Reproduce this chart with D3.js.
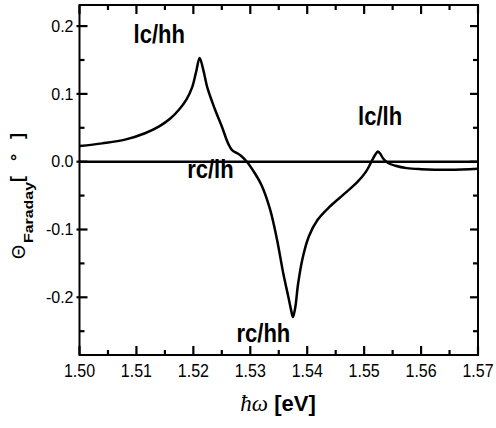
<!DOCTYPE html>
<html>
<head>
<meta charset="utf-8">
<script src="https://cdn.jsdelivr.net/npm/d3@7"></script>
<style>
  html, body { margin: 0; padding: 0; background: #fff; }
  svg { display: block; }
  text { font-family: "Liberation Sans", Arial, sans-serif; fill: #000; }
</style>
</head>
<body>
<svg id="chart" width="496" height="428"></svg>
<script>
// Photon energy (eV) and Faraday rotation angle (degrees)
const energy = [
  1.5000, 1.5040, 1.5080, 1.5115, 1.5140, 1.5160, 1.5175, 1.5188, 1.5198, 1.5205,
  1.5211, 1.5217, 1.5225, 1.5238, 1.5250, 1.5261, 1.5268, 1.5278, 1.5286, 1.5294,
  1.5308, 1.5320, 1.5335, 1.5347, 1.5358, 1.5367, 1.5372, 1.5375, 1.5379, 1.5384,
  1.5392, 1.5403, 1.5418, 1.5440, 1.5463, 1.5487, 1.5503, 1.5514, 1.5520, 1.5524,
  1.5528, 1.5534, 1.5542, 1.5555, 1.5575, 1.5600, 1.5650, 1.5700
];
const theta = [
  0.0230, 0.0270, 0.0325, 0.0420, 0.0520, 0.0640, 0.0770, 0.0920, 0.1100, 0.1330,
  0.1530, 0.1370, 0.1080, 0.0770, 0.0520, 0.0270, 0.0170, 0.0120, 0.0070, 0.0000,
  -0.0170, -0.0350, -0.0710, -0.1150, -0.1650, -0.2000, -0.2200, -0.2290, -0.2150, -0.1800,
  -0.1420, -0.1100, -0.0860, -0.0660, -0.0490, -0.0310, -0.0150, 0.0020, 0.0110, 0.0150,
  0.0120, 0.0040, -0.0020, -0.0060, -0.0095, -0.0110, -0.0120, -0.0105
];

// Transition labels with their anchor position (energy, angle)
const peakLabels = ["lc/hh", "rc/lh", "rc/hh", "lc/lh"];
const peakLabelX = [1.5140, 1.5230, 1.5323, 1.5528];
const peakLabelY = [0.175, -0.024, -0.266, 0.054];

const xTicks = [1.50, 1.51, 1.52, 1.53, 1.54, 1.55, 1.56, 1.57];
const xMinor = [1.505, 1.515, 1.525, 1.535, 1.545, 1.555, 1.565];
const yTicks = [-0.2, -0.1, 0.0, 0.1, 0.2];
const yMinor = [-0.25, -0.15, -0.05, 0.05, 0.15];

const svg = d3.select("#chart");
const plotL = 79.5, plotR = 478, plotT = 5, plotB = 355;

const x = d3.scaleLinear().domain([1.50, 1.57]).range([plotL, plotR]);
const y = d3.scaleLinear().domain([-0.2851, 0.2311]).range([plotB, plotT]);

const fmtX = d3.format(".2f");
const fmtY = v => d3.format(".1f")(v).replace("\u2212", "-");

// Frame
svg.append("rect")
  .attr("x", plotL).attr("y", plotT)
  .attr("width", plotR - plotL).attr("height", plotB - plotT)
  .attr("fill", "none").attr("stroke", "#000").attr("stroke-width", 2);

const ticks = svg.append("g").attr("stroke", "#000").attr("stroke-width", 2.2);

// Vertical ticks on bottom and top edges, pointing into the plot
function xTickMarks(values, len) {
  ticks.append("g").selectAll("line").data(values).join("line")
    .attr("x1", d => x(d)).attr("x2", d => x(d))
    .attr("y1", plotB).attr("y2", plotB - len);
  ticks.append("g").selectAll("line").data(values).join("line")
    .attr("x1", d => x(d)).attr("x2", d => x(d))
    .attr("y1", plotT).attr("y2", plotT + len);
}
// Horizontal ticks on left and right edges
function yTickMarks(values, len, out) {
  ticks.append("g").selectAll("line").data(values).join("line")
    .attr("x1", plotL - out).attr("x2", plotL + len)
    .attr("y1", d => y(d)).attr("y2", d => y(d));
  ticks.append("g").selectAll("line").data(values).join("line")
    .attr("x1", plotR).attr("x2", plotR - len)
    .attr("y1", d => y(d)).attr("y2", d => y(d));
}
xTickMarks(xTicks, 9);
xTickMarks(xMinor, 5);
yTickMarks(yTicks, 8, 3);
yTickMarks(yMinor, 5, 0);

// Tick labels
svg.append("g").selectAll("text").data(xTicks).join("text")
  .attr("transform", d => `translate(${x(d)},377) scale(1,1.2)`)
  .attr("text-anchor", "middle").attr("font-size", 16)
  .text(fmtX);

svg.append("g").selectAll("text").data(yTicks).join("text")
  .attr("x", plotL - 6).attr("y", d => y(d)).attr("dy", "0.36em")
  .attr("text-anchor", "end").attr("font-size", 16)
  .text(fmtY);

// Zero reference line
svg.append("line")
  .attr("x1", plotL).attr("x2", plotR)
  .attr("y1", y(0)).attr("y2", y(0))
  .attr("stroke", "#000").attr("stroke-width", 2.4);

// Faraday rotation spectrum
const pts = energy.map((e, i) => [e, theta[i]]);
svg.append("path")
  .datum(pts)
  .attr("fill", "none").attr("stroke", "#000").attr("stroke-width", 2.5)
  .attr("stroke-linejoin", "round")
  .attr("d", d3.line().x(d => x(d[0])).y(d => y(d[1])).curve(d3.curveCatmullRom.alpha(0.5)));

// Transition labels
svg.append("g").selectAll("text")
  .data(peakLabels)
  .join("text")
  .attr("transform", (d, i) => `translate(${x(peakLabelX[i])},${y(peakLabelY[i])}) scale(1,1.18)`)
  .attr("text-anchor", "middle")
  .attr("font-size", 22).attr("font-weight", "bold")
  .text(d => d);

// X axis title
const xt = svg.append("text")
  .attr("x", 278).attr("y", 411)
  .attr("text-anchor", "middle");
xt.append("tspan").attr("font-family", "'Liberation Serif', 'DejaVu Serif', serif")
  .attr("font-style", "italic").attr("font-size", 23).text("ħω");
xt.append("tspan").attr("font-size", 22).attr("font-weight", "bold").text(" [eV]");

// Y axis title, drawn in a frame rotated by -90° (x runs upward)
const yt = svg.append("g").attr("transform", "rotate(-90)");
yt.append("text")
  .attr("x", -252).attr("y", 25)
  .attr("text-anchor", "middle")
  .attr("font-family", "'DejaVu Sans', sans-serif").attr("font-size", 18)
  .text("Θ");
yt.append("text")
  .attr("x", -243).attr("y", 33)
  .attr("font-size", 12).attr("font-weight", "bold")
  .attr("textLength", 61).attr("lengthAdjust", "spacingAndGlyphs")
  .text("Faraday");
yt.append("text")
  .attr("x", -182).attr("y", 23)
  .attr("font-size", 18).attr("font-weight", "bold")
  .attr("textLength", 49).attr("lengthAdjust", "spacing")
  .text("[ ° ]");
</script>
</body>
</html>
